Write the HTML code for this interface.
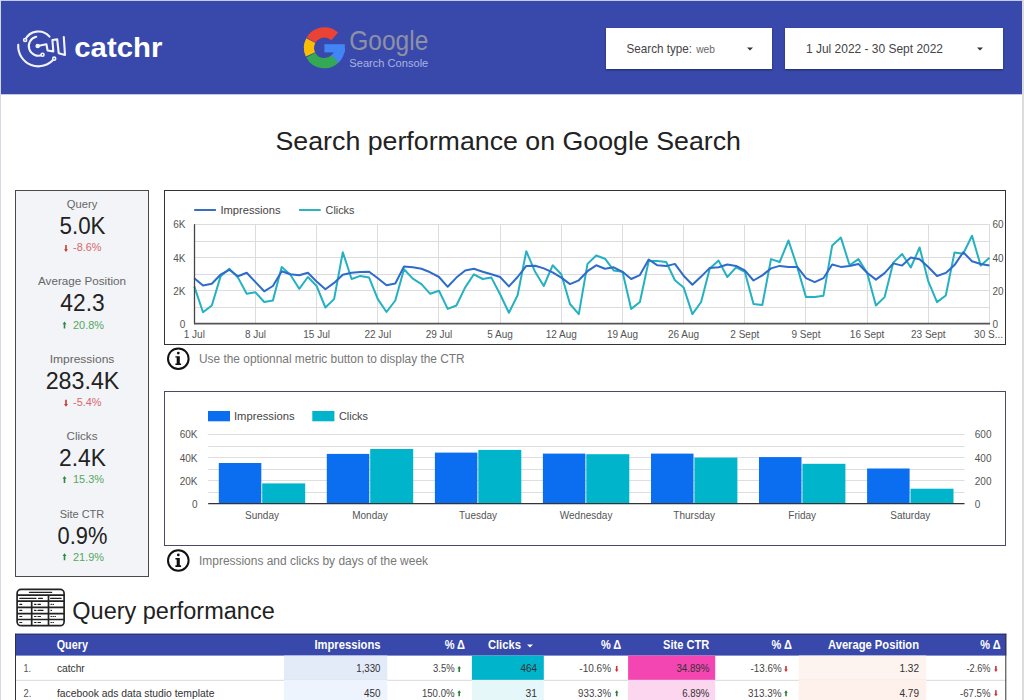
<!DOCTYPE html>
<html><head><meta charset="utf-8"><title>Search performance on Google Search</title>
<style>
*{margin:0;padding:0;box-sizing:border-box}
html,body{width:1024px;height:700px;overflow:hidden;background:#fff}
svg{display:block;font-family:"Liberation Sans",sans-serif}
</style></head><body>
<svg width="1024" height="700" viewBox="0 0 1024 700">
<defs><filter id="sh" x="-10%" y="-20%" width="120%" height="150%"><feDropShadow dx="0" dy="1" stdDeviation="1" flood-color="#000" flood-opacity="0.45"/></filter></defs>
<rect x="0.0" y="0.0" width="1024.0" height="700.0" fill="#ffffff"/>
<rect x="0.0" y="0.0" width="1024.0" height="1.0" fill="#c3cdf3"/>
<rect x="0.0" y="0.0" width="1.0" height="700.0" fill="#d3d8ea"/>
<rect x="1022.0" y="0.0" width="2.0" height="700.0" fill="#dcdcdc"/>
<rect x="1.0" y="1.0" width="1021.0" height="93.3" fill="#3949ab"/>
<g fill="none" stroke="#f2f3fd" stroke-width="2.1" stroke-linecap="round" stroke-linejoin="round">
<path d="M25.13 40.02 A14.60 14.60 0 0 1 49.50 36.62"/>
<path d="M18.24 44.80 A20.20 20.20 0 0 0 54.21 58.67"/>
<path d="M36.24 36.75 A9.60 9.60 0 1 0 42.53 54.76"/>
<path d="M37.7 46 L46.4 44.2 L47.6 50.5 L53.3 51.4 L52.4 40 L57.2 39.4 L58.7 53.2 L65 55 L63.8 37"/>
</g>
<circle cx="25.13" cy="40.02" r="1.5" fill="#3949ab" stroke="#f2f3fd" stroke-width="1.6"/>
<circle cx="42.53" cy="54.76" r="1.5" fill="#3949ab" stroke="#f2f3fd" stroke-width="1.6"/>
<circle cx="54.21" cy="58.67" r="1.5" fill="#3949ab" stroke="#f2f3fd" stroke-width="1.6"/>
<circle cx="37.7" cy="46" r="2.3" fill="#f2f3fd"/>
<text x="74.3" y="56.7" font-size="28.00" fill="#ffffff" text-anchor="start" font-weight="bold" textLength="88.0" lengthAdjust="spacingAndGlyphs">catchr</text>
<g fill="none" stroke-width="10.2">
<path d="M334.70 36.36 A15.40 15.40 0 0 0 311.06 40.10" stroke="#ea4335"/>
<path d="M310.80 40.57 A15.40 15.40 0 0 0 310.44 54.31" stroke="#fbbc05"/>
<path d="M310.80 55.03 A15.40 15.40 0 0 0 335.29 58.69" stroke="#34a853"/>
<path d="M334.90 59.06 A15.40 15.40 0 0 0 339.80 47.80" stroke="#4285f4"/>
</g>
<rect x="324.4" y="44.2" width="20.4" height="8.2" fill="#4285f4"/>
<text x="349.3" y="50.1" font-size="27.50" fill="#8e90a6" text-anchor="start" font-weight="normal" textLength="79.0" lengthAdjust="spacingAndGlyphs">Google</text>
<text x="349.3" y="66.5" font-size="10.00" fill="#aab1e3" text-anchor="start" font-weight="normal" textLength="79.0" lengthAdjust="spacingAndGlyphs">Search Console</text>
<rect x="606.0" y="28.0" width="166.0" height="41.0" fill="#ffffff" filter="url(#sh)"/>
<text x="626.6" y="52.6" font-size="12.20" fill="#444" text-anchor="start" font-weight="normal" textLength="65.4" lengthAdjust="spacingAndGlyphs">Search type:</text>
<text x="696.2" y="52.6" font-size="11.50" fill="#666" text-anchor="start" font-weight="normal" textLength="18.7" lengthAdjust="spacingAndGlyphs">web</text>
<path d="M747 47.5 L753 47.5 L750 50.5 Z" fill="#333"/>
<rect x="785.0" y="28.0" width="218.0" height="41.0" fill="#ffffff" filter="url(#sh)"/>
<text x="806.0" y="53.4" font-size="12.50" fill="#444" text-anchor="start" font-weight="normal" textLength="137.0" lengthAdjust="spacingAndGlyphs">1 Jul 2022 - 30 Sept 2022</text>
<path d="M977 47.5 L983 47.5 L980 50.5 Z" fill="#333"/>
<text x="275.5" y="149.8" font-size="26.50" fill="#222" text-anchor="start" font-weight="normal" textLength="465.5" lengthAdjust="spacingAndGlyphs">Search performance on Google Search</text>
<rect x="15.5" y="190.5" width="133.0" height="386.0" fill="#f3f4f8" stroke="#4a4a4a" stroke-width="1"/>
<text x="82.0" y="207.7" font-size="11.50" fill="#666" text-anchor="middle" font-weight="normal" textLength="30.5" lengthAdjust="spacingAndGlyphs">Query</text>
<text x="82.5" y="234.0" font-size="24.00" fill="#222" text-anchor="middle" font-weight="normal" textLength="46.0" lengthAdjust="spacingAndGlyphs">5.0K</text>
<text x="73.0" y="251.3" font-size="11.00" fill="#d86868" text-anchor="start" font-weight="normal" textLength="28.5" lengthAdjust="spacingAndGlyphs">-8.6%</text>
<path d="M66.0 252.1 l2 -2.8 h-1.2 v-4.2 h-1.6 v4.2 h-1.2 z" fill="#cc3a30"/>
<text x="82.0" y="285.1" font-size="11.50" fill="#666" text-anchor="middle" font-weight="normal" textLength="88.0" lengthAdjust="spacingAndGlyphs">Average Position</text>
<text x="82.5" y="311.4" font-size="24.00" fill="#222" text-anchor="middle" font-weight="normal" textLength="44.3" lengthAdjust="spacingAndGlyphs">42.3</text>
<text x="73.0" y="328.6" font-size="11.00" fill="#52a85c" text-anchor="start" font-weight="normal" textLength="31.0" lengthAdjust="spacingAndGlyphs">20.8%</text>
<path d="M64.5 321.4 l2 2.8 h-1.2 v4.2 h-1.6 v-4.2 h-1.2 z" fill="#2e8b3e"/>
<text x="82.0" y="362.6" font-size="11.50" fill="#666" text-anchor="middle" font-weight="normal" textLength="64.7" lengthAdjust="spacingAndGlyphs">Impressions</text>
<text x="82.5" y="388.8" font-size="24.00" fill="#222" text-anchor="middle" font-weight="normal" textLength="73.7" lengthAdjust="spacingAndGlyphs">283.4K</text>
<text x="73.0" y="405.9" font-size="11.00" fill="#d86868" text-anchor="start" font-weight="normal" textLength="28.5" lengthAdjust="spacingAndGlyphs">-5.4%</text>
<path d="M66.0 406.7 l2 -2.8 h-1.2 v-4.2 h-1.6 v4.2 h-1.2 z" fill="#cc3a30"/>
<text x="82.0" y="440.1" font-size="11.50" fill="#666" text-anchor="middle" font-weight="normal" textLength="31.0" lengthAdjust="spacingAndGlyphs">Clicks</text>
<text x="82.5" y="466.2" font-size="24.00" fill="#222" text-anchor="middle" font-weight="normal" textLength="46.8" lengthAdjust="spacingAndGlyphs">2.4K</text>
<text x="73.0" y="483.2" font-size="11.00" fill="#52a85c" text-anchor="start" font-weight="normal" textLength="31.0" lengthAdjust="spacingAndGlyphs">15.3%</text>
<path d="M64.5 476.0 l2 2.8 h-1.2 v4.2 h-1.6 v-4.2 h-1.2 z" fill="#2e8b3e"/>
<text x="82.0" y="517.5" font-size="11.50" fill="#666" text-anchor="middle" font-weight="normal" textLength="44.6" lengthAdjust="spacingAndGlyphs">Site CTR</text>
<text x="82.5" y="543.6" font-size="24.00" fill="#222" text-anchor="middle" font-weight="normal" textLength="49.8" lengthAdjust="spacingAndGlyphs">0.9%</text>
<text x="73.0" y="560.5" font-size="11.00" fill="#52a85c" text-anchor="start" font-weight="normal" textLength="31.0" lengthAdjust="spacingAndGlyphs">21.9%</text>
<path d="M64.5 553.3 l2 2.8 h-1.2 v4.2 h-1.6 v-4.2 h-1.2 z" fill="#2e8b3e"/>
<rect x="164.5" y="190.5" width="841.0" height="154.0" fill="#ffffff" stroke="#333" stroke-width="1"/>
<line x1="194.2" y1="210.0" x2="215.9" y2="210.0" stroke="#3a6fc0" stroke-width="2"/>
<text x="220.4" y="214.0" font-size="11.00" fill="#444" text-anchor="start" font-weight="normal" textLength="60.2" lengthAdjust="spacingAndGlyphs">Impressions</text>
<line x1="299.0" y1="210.0" x2="320.7" y2="210.0" stroke="#2fb3c2" stroke-width="2"/>
<text x="325.6" y="214.0" font-size="11.00" fill="#444" text-anchor="start" font-weight="normal" textLength="28.8" lengthAdjust="spacingAndGlyphs">Clicks</text>
<line x1="194.3" y1="224.5" x2="989.5" y2="224.5" stroke="#dcdcdc" stroke-width="1"/>
<line x1="194.3" y1="241.5" x2="989.5" y2="241.5" stroke="#dcdcdc" stroke-width="1"/>
<line x1="194.3" y1="257.5" x2="989.5" y2="257.5" stroke="#dcdcdc" stroke-width="1"/>
<line x1="194.3" y1="274.5" x2="989.5" y2="274.5" stroke="#dcdcdc" stroke-width="1"/>
<line x1="194.3" y1="290.5" x2="989.5" y2="290.5" stroke="#dcdcdc" stroke-width="1"/>
<line x1="194.3" y1="307.5" x2="989.5" y2="307.5" stroke="#dcdcdc" stroke-width="1"/>
<line x1="255.5" y1="224.2" x2="255.5" y2="323.7" stroke="#dcdcdc" stroke-width="1"/>
<line x1="316.5" y1="224.2" x2="316.5" y2="323.7" stroke="#dcdcdc" stroke-width="1"/>
<line x1="377.5" y1="224.2" x2="377.5" y2="323.7" stroke="#dcdcdc" stroke-width="1"/>
<line x1="438.5" y1="224.2" x2="438.5" y2="323.7" stroke="#dcdcdc" stroke-width="1"/>
<line x1="500.5" y1="224.2" x2="500.5" y2="323.7" stroke="#dcdcdc" stroke-width="1"/>
<line x1="561.5" y1="224.2" x2="561.5" y2="323.7" stroke="#dcdcdc" stroke-width="1"/>
<line x1="622.5" y1="224.2" x2="622.5" y2="323.7" stroke="#dcdcdc" stroke-width="1"/>
<line x1="683.5" y1="224.2" x2="683.5" y2="323.7" stroke="#dcdcdc" stroke-width="1"/>
<line x1="744.5" y1="224.2" x2="744.5" y2="323.7" stroke="#dcdcdc" stroke-width="1"/>
<line x1="805.5" y1="224.2" x2="805.5" y2="323.7" stroke="#dcdcdc" stroke-width="1"/>
<line x1="867.5" y1="224.2" x2="867.5" y2="323.7" stroke="#dcdcdc" stroke-width="1"/>
<line x1="928.5" y1="224.2" x2="928.5" y2="323.7" stroke="#dcdcdc" stroke-width="1"/>
<line x1="989.5" y1="224.2" x2="989.5" y2="323.7" stroke="#dcdcdc" stroke-width="1"/>
<text x="185.4" y="228.4" font-size="10.00" fill="#555" text-anchor="end" font-weight="normal">6K</text>
<text x="185.4" y="261.6" font-size="10.00" fill="#555" text-anchor="end" font-weight="normal">4K</text>
<text x="185.4" y="294.7" font-size="10.00" fill="#555" text-anchor="end" font-weight="normal">2K</text>
<text x="185.4" y="327.9" font-size="10.00" fill="#555" text-anchor="end" font-weight="normal">0</text>
<text x="992.4" y="228.4" font-size="10.00" fill="#555" text-anchor="start" font-weight="normal">60</text>
<text x="992.4" y="261.6" font-size="10.00" fill="#555" text-anchor="start" font-weight="normal">40</text>
<text x="992.4" y="294.7" font-size="10.00" fill="#555" text-anchor="start" font-weight="normal">20</text>
<text x="992.4" y="327.9" font-size="10.00" fill="#555" text-anchor="start" font-weight="normal">0</text>
<text x="194.3" y="337.9" font-size="10.00" fill="#555" text-anchor="middle" font-weight="normal">1 Jul</text>
<text x="255.5" y="337.9" font-size="10.00" fill="#555" text-anchor="middle" font-weight="normal">8 Jul</text>
<text x="316.6" y="337.9" font-size="10.00" fill="#555" text-anchor="middle" font-weight="normal">15 Jul</text>
<text x="377.8" y="337.9" font-size="10.00" fill="#555" text-anchor="middle" font-weight="normal">22 Jul</text>
<text x="439.0" y="337.9" font-size="10.00" fill="#555" text-anchor="middle" font-weight="normal">29 Jul</text>
<text x="500.1" y="337.9" font-size="10.00" fill="#555" text-anchor="middle" font-weight="normal">5 Aug</text>
<text x="561.3" y="337.9" font-size="10.00" fill="#555" text-anchor="middle" font-weight="normal">12 Aug</text>
<text x="622.5" y="337.9" font-size="10.00" fill="#555" text-anchor="middle" font-weight="normal">19 Aug</text>
<text x="683.6" y="337.9" font-size="10.00" fill="#555" text-anchor="middle" font-weight="normal">26 Aug</text>
<text x="744.8" y="337.9" font-size="10.00" fill="#555" text-anchor="middle" font-weight="normal">2 Sept</text>
<text x="806.0" y="337.9" font-size="10.00" fill="#555" text-anchor="middle" font-weight="normal">9 Sept</text>
<text x="867.1" y="337.9" font-size="10.00" fill="#555" text-anchor="middle" font-weight="normal">16 Sept</text>
<text x="928.3" y="337.9" font-size="10.00" fill="#555" text-anchor="middle" font-weight="normal">23 Sept</text>
<text x="1003.0" y="337.9" font-size="10.00" fill="#555" text-anchor="end" font-weight="normal">30 S...</text>
<polyline points="194.3,286.4 203.0,312.2 211.8,305.5 220.5,276.6 229.3,268.8 238.0,277.6 246.7,293.8 255.5,292.3 264.2,302.0 272.9,300.5 281.7,266.9 290.4,274.7 299.2,288.8 307.9,277.0 316.6,286.0 325.4,307.5 334.1,299.1 342.8,252.2 351.6,279.0 360.3,275.9 369.1,277.6 377.8,299.1 386.5,312.0 395.3,300.5 404.0,269.2 412.8,278.6 421.5,284.1 430.2,293.8 439.0,290.7 447.7,308.9 456.4,305.5 465.2,287.4 473.9,274.3 482.7,279.0 491.4,277.6 500.1,294.2 508.9,312.8 517.6,295.2 526.3,251.2 535.1,271.8 543.8,286.0 552.6,265.3 561.3,274.3 570.0,304.0 578.8,314.2 587.5,263.9 596.2,255.5 605.0,258.7 613.7,270.4 622.5,271.8 631.2,308.9 639.9,302.0 648.7,261.0 657.4,261.0 666.2,262.0 674.9,280.2 683.6,287.4 692.4,314.1 701.1,302.0 709.8,268.4 718.6,260.6 727.3,277.0 736.1,267.3 744.8,271.8 753.5,304.0 762.3,305.0 771.0,259.1 779.7,262.0 788.5,240.5 797.2,266.9 806.0,297.1 814.7,297.1 823.4,295.8 832.2,245.4 840.9,237.6 849.6,265.3 858.4,259.1 867.1,272.7 875.9,305.5 884.6,297.1 893.3,262.6 902.1,254.0 910.8,267.5 919.6,247.5 928.3,281.4 937.0,302.1 945.8,295.5 954.5,252.5 963.2,253.8 972.0,235.7 980.7,265.6 989.5,257.7" fill="none" stroke="#24b1c2" stroke-width="2" stroke-linejoin="round"/>
<polyline points="194.3,278.2 203.0,285.6 211.8,283.7 220.5,274.7 229.3,269.8 238.0,276.2 246.7,272.7 255.5,282.1 264.2,291.3 272.9,286.0 281.7,271.2 290.4,274.3 299.2,275.3 307.9,272.7 316.6,281.5 325.4,289.3 334.1,282.9 342.8,274.7 351.6,272.7 360.3,272.0 369.1,271.8 377.8,278.2 386.5,285.2 395.3,283.5 404.0,266.5 412.8,267.3 421.5,268.8 430.2,272.3 439.0,277.0 447.7,286.8 456.4,277.6 465.2,270.4 473.9,268.8 482.7,271.8 491.4,274.3 500.1,277.0 508.9,286.4 517.6,277.0 526.3,265.9 535.1,265.7 543.8,268.4 552.6,272.3 561.3,277.6 570.0,284.1 578.8,280.3 587.5,271.2 596.2,265.3 605.0,268.8 613.7,267.3 622.5,271.8 631.2,279.0 639.9,275.1 648.7,259.5 657.4,265.3 666.2,266.1 674.9,263.9 683.6,275.7 692.4,284.8 701.1,276.6 709.8,267.9 718.6,267.3 727.3,264.5 736.1,265.9 744.8,270.4 753.5,280.5 762.3,275.4 771.0,268.4 779.7,265.9 788.5,266.9 797.2,266.9 806.0,278.2 814.7,282.1 823.4,278.2 832.2,264.5 840.9,266.9 849.6,265.9 858.4,263.9 867.1,272.7 875.9,279.6 884.6,273.1 893.3,263.4 902.1,265.6 910.8,257.5 919.6,259.2 928.3,267.0 937.0,276.0 945.8,272.9 954.5,265.1 963.2,252.2 972.0,261.2 980.7,264.0 989.5,265.6" fill="none" stroke="#2e6bcb" stroke-width="2" stroke-linejoin="round"/>
<line x1="194.5" y1="224.2" x2="194.5" y2="324.2" stroke="#444" stroke-width="1.3"/>
<line x1="194.0" y1="323.6" x2="990.0" y2="323.6" stroke="#555" stroke-width="1.7"/>
<circle cx="178.3" cy="358.7" r="10.3" fill="none" stroke="#111" stroke-width="2"/>
<circle cx="178.3" cy="353.1" r="1.4" fill="#111"/>
<path d="M175.4 356.2 h4.4 v7.2 h1.3 v1.7 h-5.7 v-1.7 h1.3 v-5.8 h-1.3 z" fill="#111"/>
<text x="199.0" y="362.8" font-size="12.00" fill="#777" text-anchor="start" font-weight="normal" textLength="265.7" lengthAdjust="spacingAndGlyphs">Use the optionnal metric button to display the CTR</text>
<rect x="164.5" y="391.5" width="841.0" height="154.0" fill="#ffffff" stroke="#4a4a66" stroke-width="1"/>
<rect x="208.0" y="411.0" width="22.0" height="10.3" fill="#0b6ef0"/>
<text x="234.0" y="420.0" font-size="11.00" fill="#444" text-anchor="start" font-weight="normal" textLength="60.5" lengthAdjust="spacingAndGlyphs">Impressions</text>
<rect x="312.3" y="411.0" width="22.1" height="10.3" fill="#00b4cc"/>
<text x="339.0" y="420.0" font-size="11.00" fill="#444" text-anchor="start" font-weight="normal" textLength="29.0" lengthAdjust="spacingAndGlyphs">Clicks</text>
<line x1="208.2" y1="434.5" x2="964.5" y2="434.5" stroke="#dedede" stroke-width="1"/>
<line x1="208.2" y1="446.5" x2="964.5" y2="446.5" stroke="#dedede" stroke-width="1"/>
<line x1="208.2" y1="457.5" x2="964.5" y2="457.5" stroke="#dedede" stroke-width="1"/>
<line x1="208.2" y1="469.5" x2="964.5" y2="469.5" stroke="#dedede" stroke-width="1"/>
<line x1="208.2" y1="480.5" x2="964.5" y2="480.5" stroke="#dedede" stroke-width="1"/>
<line x1="208.2" y1="492.5" x2="964.5" y2="492.5" stroke="#dedede" stroke-width="1"/>
<text x="197.5" y="438.4" font-size="10.00" fill="#555" text-anchor="end" font-weight="normal">60K</text>
<text x="197.5" y="461.5" font-size="10.00" fill="#555" text-anchor="end" font-weight="normal">40K</text>
<text x="197.5" y="484.6" font-size="10.00" fill="#555" text-anchor="end" font-weight="normal">20K</text>
<text x="197.5" y="507.7" font-size="10.00" fill="#555" text-anchor="end" font-weight="normal">0</text>
<text x="974.8" y="438.4" font-size="10.00" fill="#555" text-anchor="start" font-weight="normal">600</text>
<text x="974.8" y="461.5" font-size="10.00" fill="#555" text-anchor="start" font-weight="normal">400</text>
<text x="974.8" y="484.6" font-size="10.00" fill="#555" text-anchor="start" font-weight="normal">200</text>
<text x="974.8" y="507.7" font-size="10.00" fill="#555" text-anchor="start" font-weight="normal">0</text>
<rect x="218.8" y="463.0" width="42.5" height="40.7" fill="#0b6ef0"/>
<rect x="262.2" y="483.4" width="43.0" height="20.3" fill="#00b4cc"/>
<text x="262.0" y="519.0" font-size="10.00" fill="#555" text-anchor="middle" font-weight="normal">Sunday</text>
<rect x="326.8" y="453.9" width="42.5" height="49.8" fill="#0b6ef0"/>
<rect x="370.2" y="449.0" width="43.0" height="54.7" fill="#00b4cc"/>
<text x="370.0" y="519.0" font-size="10.00" fill="#555" text-anchor="middle" font-weight="normal">Monday</text>
<rect x="434.9" y="452.6" width="42.5" height="51.1" fill="#0b6ef0"/>
<rect x="478.3" y="449.9" width="43.0" height="53.8" fill="#00b4cc"/>
<text x="478.1" y="519.0" font-size="10.00" fill="#555" text-anchor="middle" font-weight="normal">Tuesday</text>
<rect x="542.9" y="453.6" width="42.5" height="50.1" fill="#0b6ef0"/>
<rect x="586.3" y="454.2" width="43.0" height="49.5" fill="#00b4cc"/>
<text x="586.1" y="519.0" font-size="10.00" fill="#555" text-anchor="middle" font-weight="normal">Wednesday</text>
<rect x="651.0" y="453.6" width="42.5" height="50.1" fill="#0b6ef0"/>
<rect x="694.4" y="457.6" width="43.0" height="46.1" fill="#00b4cc"/>
<text x="694.2" y="519.0" font-size="10.00" fill="#555" text-anchor="middle" font-weight="normal">Thursday</text>
<rect x="759.0" y="457.1" width="42.5" height="46.6" fill="#0b6ef0"/>
<rect x="802.4" y="463.8" width="43.0" height="39.9" fill="#00b4cc"/>
<text x="802.2" y="519.0" font-size="10.00" fill="#555" text-anchor="middle" font-weight="normal">Friday</text>
<rect x="867.1" y="468.5" width="42.5" height="35.2" fill="#0b6ef0"/>
<rect x="910.5" y="488.7" width="43.0" height="15.0" fill="#00b4cc"/>
<text x="910.3" y="519.0" font-size="10.00" fill="#555" text-anchor="middle" font-weight="normal">Saturday</text>
<line x1="208.2" y1="503.6" x2="964.5" y2="503.6" stroke="#333" stroke-width="1.3"/>
<circle cx="178.3" cy="560.5" r="10.3" fill="none" stroke="#111" stroke-width="2"/>
<circle cx="178.3" cy="554.9" r="1.4" fill="#111"/>
<path d="M175.4 558.0 h4.4 v7.2 h1.3 v1.7 h-5.7 v-1.7 h1.3 v-5.8 h-1.3 z" fill="#111"/>
<text x="199.0" y="564.5" font-size="12.00" fill="#777" text-anchor="start" font-weight="normal" textLength="229.0" lengthAdjust="spacingAndGlyphs">Impressions and clicks by days of the week</text>
<g fill="none" stroke="#222" stroke-width="1.7">
<rect x="17.1" y="589.4" width="47" height="36.3" rx="4"/>
<path d="M17.1 595.2 H64.1 M17.1 601.2 H64.1 M17.1 607.3 H64.1 M17.1 613.6 H64.1 M17.1 619.5 H64.1 M48.5 595.2 V625.7 M31.7 601.2 V625.7"/>
</g>
<g stroke="#222" stroke-width="1.2" stroke-linecap="round">
<path d="M29.4 592.3 H51.7 M19.8 598.3 H36 M38.5 598.3 H42.5 M50.6 598.3 H61.2"/>
<path d="M19.8 604.3 H21.8 M34.5 604.3 H36 M38 604.3 H40.5 M51 604.3 H51.5 M53 604.3 H53.5"/>
<path d="M19.8 610.4 H21.8 M34.5 610.4 H36 M38 610.4 H43 M51 610.4 H51.5"/>
<path d="M19.8 616.5 H21.8 M34.5 616.5 H36 M38 616.5 H40.5 M51 616.5 H51.5 M53 616.5 H53.5 M55 616.5 H55.5"/>
<path d="M19.8 622.5 H21.8 M34.5 622.5 H36 M38 622.5 H40.5 M51 622.5 H51.5 M53 622.5 H53.5"/>
</g>
<text x="72.3" y="619.2" font-size="23.00" fill="#222" text-anchor="start" font-weight="normal" textLength="202.4" lengthAdjust="spacingAndGlyphs">Query performance</text>
<rect x="15.0" y="633.8" width="991.3" height="21.8" fill="#3949ab"/>
<rect x="284.0" y="655.6" width="103.3" height="24.4" fill="#e3ebf9"/>
<rect x="471.9" y="655.6" width="71.9" height="24.4" fill="#00b4cb"/>
<rect x="628.1" y="655.6" width="87.1" height="24.4" fill="#f446b2"/>
<rect x="798.7" y="655.6" width="127.6" height="24.4" fill="#fdf4ef"/>
<line x1="15.0" y1="680.3" x2="1006.3" y2="680.3" stroke="#d9d9d9" stroke-width="1"/>
<text x="23.6" y="672.2" font-size="11.00" fill="#555" text-anchor="start" font-weight="normal" textLength="7.5" lengthAdjust="spacingAndGlyphs">1.</text>
<text x="56.9" y="672.2" font-size="11.00" fill="#333" text-anchor="start" font-weight="normal" textLength="27.9" lengthAdjust="spacingAndGlyphs">catchr</text>
<text x="380.5" y="672.2" font-size="11.00" fill="#333" text-anchor="end" font-weight="normal" textLength="24.2" lengthAdjust="spacingAndGlyphs">1,330</text>
<text x="454.6" y="672.2" font-size="11.00" fill="#444" text-anchor="end" font-weight="normal" textLength="21.6" lengthAdjust="spacingAndGlyphs">3.5%</text>
<path d="M459.2 666.0 l1.8 2.4 h-1 v3.6 h-1.6 v-3.6 h-1 z" fill="#2e7d32"/>
<text x="537.0" y="672.2" font-size="11.00" fill="#333" text-anchor="end" font-weight="normal" textLength="16.6" lengthAdjust="spacingAndGlyphs">464</text>
<text x="611.1" y="672.2" font-size="11.00" fill="#444" text-anchor="end" font-weight="normal" textLength="31.8" lengthAdjust="spacingAndGlyphs">-10.6%</text>
<path d="M616.7 672.0 l1.8 -2.4 h-1 v-3.6 h-1.6 v3.6 h-1 z" fill="#d32f2f"/>
<text x="709.4" y="672.2" font-size="11.00" fill="#333" text-anchor="end" font-weight="normal" textLength="33.0" lengthAdjust="spacingAndGlyphs">34.89%</text>
<text x="781.6" y="672.2" font-size="11.00" fill="#444" text-anchor="end" font-weight="normal" textLength="31.0" lengthAdjust="spacingAndGlyphs">-13.6%</text>
<path d="M786.0 672.0 l1.8 -2.4 h-1 v-3.6 h-1.6 v3.6 h-1 z" fill="#d32f2f"/>
<text x="919.0" y="672.2" font-size="11.00" fill="#333" text-anchor="end" font-weight="normal" textLength="19.6" lengthAdjust="spacingAndGlyphs">1.32</text>
<text x="990.5" y="672.2" font-size="11.00" fill="#444" text-anchor="end" font-weight="normal" textLength="24.0" lengthAdjust="spacingAndGlyphs">-2.6%</text>
<path d="M995.9 672.0 l1.8 -2.4 h-1 v-3.6 h-1.6 v3.6 h-1 z" fill="#d32f2f"/>
<rect x="284.0" y="680.0" width="103.3" height="24.4" fill="#eef4fd"/>
<rect x="471.9" y="680.0" width="71.9" height="24.4" fill="#e6f7f9"/>
<rect x="628.1" y="680.0" width="87.1" height="24.4" fill="#fbd6ee"/>
<rect x="798.7" y="680.0" width="127.6" height="24.4" fill="#fef0eb"/>
<line x1="15.0" y1="704.7" x2="1006.3" y2="704.7" stroke="#d9d9d9" stroke-width="1"/>
<text x="23.6" y="696.5" font-size="11.00" fill="#555" text-anchor="start" font-weight="normal" textLength="7.8" lengthAdjust="spacingAndGlyphs">2.</text>
<text x="56.9" y="696.5" font-size="11.00" fill="#333" text-anchor="start" font-weight="normal" textLength="157.5" lengthAdjust="spacingAndGlyphs">facebook ads data studio template</text>
<text x="380.5" y="696.5" font-size="11.00" fill="#333" text-anchor="end" font-weight="normal" textLength="16.5" lengthAdjust="spacingAndGlyphs">450</text>
<text x="454.6" y="696.5" font-size="11.00" fill="#444" text-anchor="end" font-weight="normal" textLength="32.7" lengthAdjust="spacingAndGlyphs">150.0%</text>
<path d="M459.2 690.3 l1.8 2.4 h-1 v3.6 h-1.6 v-3.6 h-1 z" fill="#2e7d32"/>
<text x="537.0" y="696.5" font-size="11.00" fill="#333" text-anchor="end" font-weight="normal" textLength="11.5" lengthAdjust="spacingAndGlyphs">31</text>
<text x="611.1" y="696.5" font-size="11.00" fill="#444" text-anchor="end" font-weight="normal" textLength="33.0" lengthAdjust="spacingAndGlyphs">933.3%</text>
<path d="M616.7 690.3 l1.8 2.4 h-1 v3.6 h-1.6 v-3.6 h-1 z" fill="#2e7d32"/>
<text x="709.4" y="696.5" font-size="11.00" fill="#333" text-anchor="end" font-weight="normal" textLength="27.2" lengthAdjust="spacingAndGlyphs">6.89%</text>
<text x="781.6" y="696.5" font-size="11.00" fill="#444" text-anchor="end" font-weight="normal" textLength="33.5" lengthAdjust="spacingAndGlyphs">313.3%</text>
<path d="M786.0 690.3 l1.8 2.4 h-1 v3.6 h-1.6 v-3.6 h-1 z" fill="#2e7d32"/>
<text x="919.0" y="696.5" font-size="11.00" fill="#333" text-anchor="end" font-weight="normal" textLength="19.6" lengthAdjust="spacingAndGlyphs">4.79</text>
<text x="990.5" y="696.5" font-size="11.00" fill="#444" text-anchor="end" font-weight="normal" textLength="30.4" lengthAdjust="spacingAndGlyphs">-67.5%</text>
<path d="M995.9 696.3 l1.8 -2.4 h-1 v-3.6 h-1.6 v3.6 h-1 z" fill="#d32f2f"/>
<line x1="15.0" y1="634.2" x2="1006.3" y2="634.2" stroke="#262c63" stroke-width="1"/>
<line x1="15.5" y1="633.8" x2="15.5" y2="700.0" stroke="#333" stroke-width="1"/>
<line x1="1005.8" y1="633.8" x2="1005.8" y2="700.0" stroke="#333" stroke-width="1"/>
<text x="56.7" y="649.1" font-size="12.00" fill="#fff" text-anchor="start" font-weight="bold" textLength="31.2" lengthAdjust="spacingAndGlyphs">Query</text>
<text x="380.5" y="649.1" font-size="12.00" fill="#fff" text-anchor="end" font-weight="bold" textLength="66.1" lengthAdjust="spacingAndGlyphs">Impressions</text>
<text x="465.0" y="649.1" font-size="12.00" fill="#fff" text-anchor="end" font-weight="bold" textLength="20.3" lengthAdjust="spacingAndGlyphs">% Δ</text>
<text x="521.0" y="649.1" font-size="12.00" fill="#fff" text-anchor="end" font-weight="bold" textLength="33.1" lengthAdjust="spacingAndGlyphs">Clicks</text>
<path d="M527 644.5 L533 644.5 L530 647.5 Z" fill="#fff"/>
<text x="621.2" y="649.1" font-size="12.00" fill="#fff" text-anchor="end" font-weight="bold" textLength="20.3" lengthAdjust="spacingAndGlyphs">% Δ</text>
<text x="709.4" y="649.1" font-size="12.00" fill="#fff" text-anchor="end" font-weight="bold" textLength="46.3" lengthAdjust="spacingAndGlyphs">Site CTR</text>
<text x="791.8" y="649.1" font-size="12.00" fill="#fff" text-anchor="end" font-weight="bold" textLength="20.3" lengthAdjust="spacingAndGlyphs">% Δ</text>
<text x="919.0" y="649.1" font-size="12.00" fill="#fff" text-anchor="end" font-weight="bold" textLength="91.0" lengthAdjust="spacingAndGlyphs">Average Position</text>
<text x="1000.6" y="649.1" font-size="12.00" fill="#fff" text-anchor="end" font-weight="bold" textLength="20.3" lengthAdjust="spacingAndGlyphs">% Δ</text>
</svg>
</body></html>
